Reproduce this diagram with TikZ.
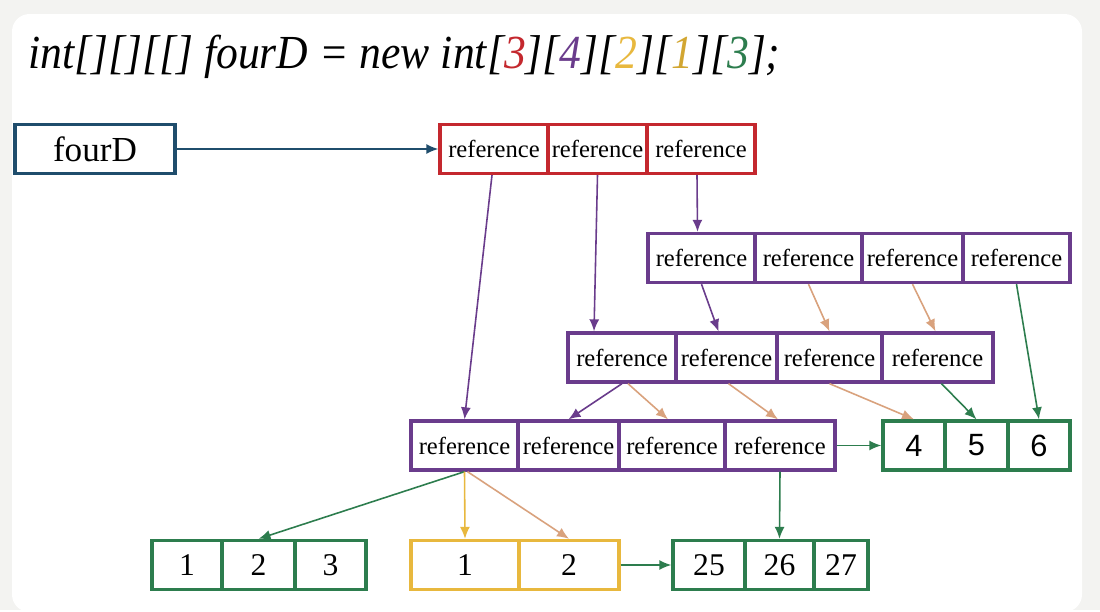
\documentclass[tikz,border=0pt]{standalone}
\usepackage{fontspec}
\setmainfont{Liberation Serif}
\newfontfamily\numsans{Liberation Sans}
\newfontfamily\declfont[FakeStretch=0.92]{Liberation Serif}
\usepackage{xcolor}
\usepackage{tikz}
\usetikzlibrary{positioning, arrows.meta, calc}
\definecolor{arRed}{HTML}{C4282E}
\definecolor{arPurple}{HTML}{6A3C8C}
\definecolor{arBlue}{HTML}{1F4D6C}
\definecolor{arGreen}{HTML}{2D7D4E}
\definecolor{arYellow}{HTML}{E8B83E}
\definecolor{arGold}{HTML}{D2A631}
\definecolor{arTan}{HTML}{D9A27D}
\definecolor{arBg}{HTML}{F3F3F1}
\tikzset{
  cell/.style={
    rectangle, draw=#1, line width=1.9pt,
    fill=white, inner sep=1pt,
    minimum height=0.98cm,
    font=\fontsize{14}{16}\selectfont
  },
  numcell/.style={
    cell=#1,
    font=\fontsize{18}{20}\selectfont
  },
  link/.style={
    -{Latex[length=2.4mm, width=2mm]},
    draw=#1, line width=0.9pt
  }
}

\begin{document}
\begin{tikzpicture}[x=0.02cm, y=-0.02cm]
        % canvas
        \fill[arBg] (0,0) rectangle (1100,610);
        \fill[white, rounded corners=0.35cm] (12,14) rectangle (1082,612);
        \useasboundingbox (0,0) rectangle (1100,610);

        % declaration
        \node[anchor=base west, inner sep=0pt, font=\fontsize{27}{30}\selectfont\declfont\itshape] (decl) at (28,69)
          {int[][][[] fourD = new int[\textcolor{arRed}{3}][\textcolor{arPurple}{4}][\textcolor{arYellow}{2}][\textcolor{arGold}{1}][\textcolor{arGreen}{3}];};

        % variable
        \node[cell=arBlue, minimum width=3.2cm, font=\fontsize{20}{24}\selectfont] (var) at (95,149) {fourD};

        % level 1
        \foreach \n/\a/\b in {r1/440/548, r2/548/647, r3/647/755}
          \node[cell=arRed, minimum width={(\b-\a)*0.02cm}] (\n) at ({(\a+\b)/2},149) {reference};

        % level 2
        \foreach \n/\a/\b in {a1/648/755, a2/755/862, a3/862/963, a4/963/1070}
          \node[cell=arPurple, minimum width={(\b-\a)*0.02cm}] (\n) at ({(\a+\b)/2},258) {reference};
        \foreach \n/\a/\b in {b1/568/676, b2/676/777, b3/777/882, b4/882/993}
          \node[cell=arPurple, minimum width={(\b-\a)*0.02cm}] (\n) at ({(\a+\b)/2},357.5) {reference};
        \foreach \n/\a/\b in {c1/411/518, c2/518/619, c3/619/725, c4/725/835}
          \node[cell=arPurple, minimum width={(\b-\a)*0.02cm}] (\n) at ({(\a+\b)/2},445.5) {reference};

        % int arrays
        \foreach \n/\a/\b/\v in {g1/883/945/4, g2/945/1008/5, g3/1008/1070/6}
          \node[numcell=arGreen, minimum width={(\b-\a)*0.02cm}, font=\fontsize{17.5}{20}\selectfont\numsans] (\n) at ({(\a+\b)/2},445.5) {\v};
        \foreach \n/\a/\b/\v in {n1/152/222/1, n2/222/295/2, n3/295/366/3}
          \node[numcell=arGreen, minimum width={(\b-\a)*0.02cm}] (\n) at ({(\a+\b)/2},565) {\v};
        \foreach \n/\a/\b/\v in {y1/411/519/1, y2/519/619/2}
          \node[numcell=arYellow, minimum width={(\b-\a)*0.02cm}] (\n) at ({(\a+\b)/2},565) {\v};
        \foreach \n/\a/\b/\v in {t1/673/745/25, t2/745/814/26, t3/814/868/27}
          \node[numcell=arGreen, minimum width={(\b-\a)*0.02cm}] (\n) at ({(\a+\b)/2},565) {\v};

        % references
        \draw[link=arBlue] (var.east) -- (r1.west);
        \draw[link=arPurple] ($(r1.south)+(-2,0)$) -- (c1.north);
        \draw[link=arPurple] (r2.south) -- ($(b1.north)+(-28,0)$);
        \draw[link=arPurple] ($(r3.south)+(-4,0)$) -- ($(a1.north)+(-4,0)$);
        \draw[link=arPurple] (a1.south) -- ($(b2.north)+(-8,0)$);
        \draw[link=arTan] (a2.south) -- (b3.north);
        \draw[link=arTan] (a3.south) -- ($(b4.north)+(-2,0)$);
        \draw[link=arGreen] (a4.south) -- (g3.north);
        \draw[link=arPurple] (b1.south) -- (c2.north);
        \draw[link=arTan] ($(b1.south)+(6,0)$) -- ($(c3.north)+(-4,0)$);
        \draw[link=arTan] ($(b2.south)+(2,0)$) -- ($(c4.north)+(-2,0)$);
        \draw[link=arTan] (b3.south) -- (g1.north);
        \draw[link=arGreen] ($(b4.south)+(4,0)$) -- (g2.north);
        \draw[link=arGreen] (c4.east) -- (g1.west);
        \draw[link=arGreen] (c1.south) -- (n2.north);
        \draw[link=arYellow] (c1.south) -- (y1.north);
        \draw[link=arTan] ($(c1.south)+(3,0)$) -- (y2.north);
        \draw[link=arGreen] (c4.south) -- (t2.north);
        \draw[link=arGreen] (y2.east) -- (t1.west);
      \end{tikzpicture}
\end{document}
